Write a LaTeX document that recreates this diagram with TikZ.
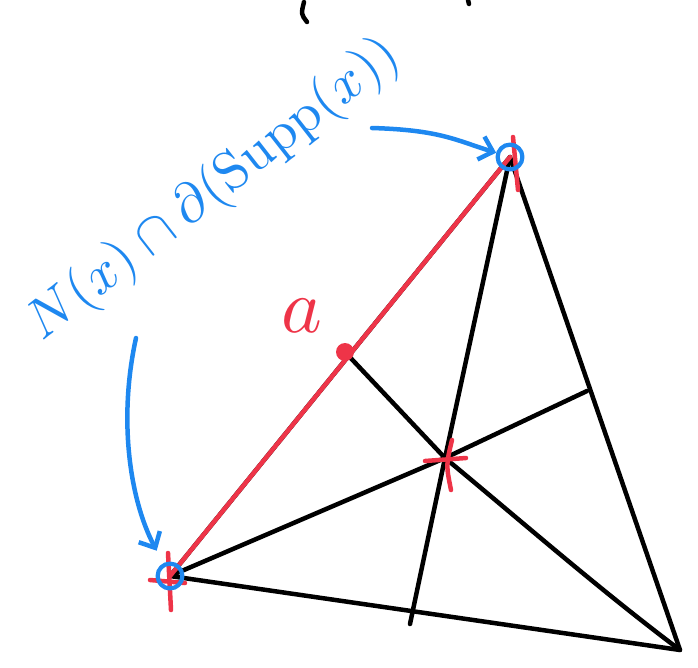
\documentclass[tikz,border=0pt]{standalone}
\usepackage{amsmath,amssymb}
\usepackage{graphicx}
\usetikzlibrary{arrows.meta}
\definecolor{inkblue}{RGB}{30,136,240}
\definecolor{inkred}{RGB}{238,52,72}

\begin{document}
\begin{tikzpicture}[x=0.025cm, y=-0.025cm, line cap=round, line join=round,
  edge/.style={line width=3.2pt, black},
  redge/.style={line width=3.2pt, inkred},
  vring/.style={circle, draw=inkblue, line width=3pt, minimum size=0.62cm, inner sep=0pt},
  pointer/.style={line width=3.2pt, inkblue, -{Straight Barb[length=9pt, width=17pt, line width=3.2pt]}}]
  \useasboundingbox (0,0) rectangle (698,667);

  % vertices, edge midpoints and the centre x
  \coordinate (A) at (170,576);
  \coordinate (B) at (510,157);
  \coordinate (C) at (680,650);
  \coordinate (mAB) at (345,352);
  \coordinate (mBC) at (587,391);
  \coordinate (mAC) at (410,624);
  \coordinate (X) at (445,458);

  \draw[edge] (A) -- (B) -- (C) -- cycle;
  \foreach \p in {A,B,mAB,mBC,mAC} {
    \draw[edge] (X) -- (\p);
  }
  \draw[edge] (X) .. controls (520,520) and (600,590) .. (C);

  % the red edge with its point a
  \draw[redge] (A) -- (B);
  \fill[inkred] (mAB) circle (9);
  \node[text=inkred] (la) at (302,316) {\scalebox{5.5}{$a$}};

  % red crosses
  \draw[redge] (425,461) -- (466,458);
  \draw[redge] (452,440) .. controls (446,465) .. (451,490);
  \draw[redge] (168,553) -- (171,610);
  \draw[redge] (150,580) -- (185,583);
  \draw[redge] (513,137) -- (518,190);

  % blue rings and label
  \node[vring] (rA) at (A) {};
  \node[vring] (rB) at (B) {};
  \node[text=inkblue, rotate=38] (lbl) at (214,190)
    {\scalebox{3.9}{$N(x)\cap\partial(\mathrm{Supp}(x))$}};

  \coordinate (t1) at (372,128);
  \coordinate (t2) at (136,338);
  \draw[pointer] (t1) .. controls (440,130) and (455,140) .. (rB);
  \draw[pointer, shorten >=10pt] (t2) .. controls (118,420) and (130,500) .. (rA);

  % cut-off strokes at the top edge
  \draw[edge] (304,2) .. controls (301,14) .. (307,22);
  \draw[edge] (468,0) -- (469,4);
\end{tikzpicture}
\end{document}
